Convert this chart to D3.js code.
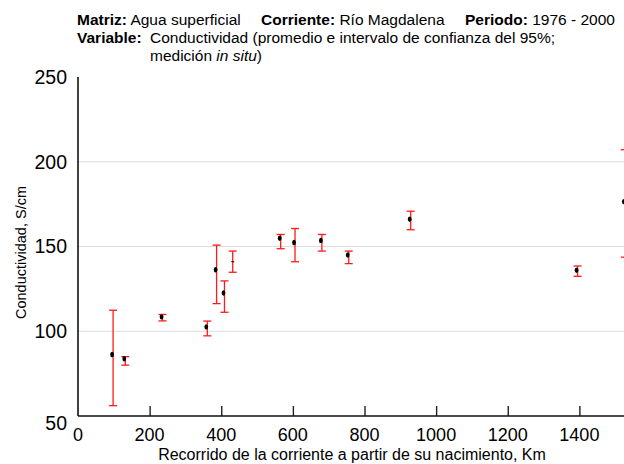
<!DOCTYPE html>
<html>
<head>
<meta charset="utf-8">
<script src="https://cdn.jsdelivr.net/npm/d3@7"></script>
<style>
  html, body { margin: 0; padding: 0; background: #fff; }
  svg { display: block; font-family: "Liberation Sans", Arial, Helvetica, sans-serif; }
</style>
</head>
<body>
<svg id="chart" width="624" height="464"></svg>
<script>
// Distance from the river source (km) for each sampling station
const km = [98, 132, 236, 361, 387, 409, 432, 566, 606, 681, 756, 929, 1395, 1527];
// Mean conductivity and 95% confidence interval bounds
const meanValues = [86.3, 83.8, 108.5, 102.6, 136.3, 122.6, 141, 154.9, 152.4, 153.6, 145, 166.1, 136, 176.5];
const lowerCI   = [56.1, 80, 106.1, 97.3, 116.3, 111.2, 134.8, 148.7, 141, 147.3, 139.9, 159.9, 132.4, 143.7];
const upperCI   = [112.4, 85, 109.9, 106, 150.8, 129.7, 147.3, 157.1, 160.6, 157.1, 147.3, 170.8, 138.5, 207.1];
// Marker shape for each mean
const markerShape = ["dot","dot","dot","dot","dot","dot","dash","dot","dot","dot","dot","dot","dot","dot"];

const xTicks = [0, 200, 400, 600, 800, 1000, 1200, 1400];
const yTicks = [50, 100, 150, 200, 250];
const yGrid = [100, 150, 200];

const svg = d3.select("#chart");
const W = 624, H = 464;

const x = d3.scaleLinear().domain([0, 1600]).range([78, 651]);
const y = d3.scaleLinear().domain([50, 250]).range([416, 77]);

// Header
const header = svg.append("g").attr("font-size", 15.5).attr("fill", "#000");
const l1 = header.append("text").attr("y", 25);
l1.append("tspan").attr("x", 77).attr("font-weight", "bold").text("Matriz:");
l1.append("tspan").text(" Agua superficial");
l1.append("tspan").attr("x", 261).attr("font-weight", "bold").text("Corriente:");
l1.append("tspan").text(" Río Magdalena");
l1.append("tspan").attr("x", 465).attr("font-weight", "bold").text("Periodo:");
l1.append("tspan").text(" 1976 - 2000");
const l2 = header.append("text").attr("y", 43);
l2.append("tspan").attr("x", 77).attr("font-weight", "bold").text("Variable:");
l2.append("tspan").attr("x", 150).text("Conductividad (promedio e intervalo de confianza del 95%;");
const l3 = header.append("text").attr("y", 61);
l3.append("tspan").attr("x", 150).text("medición ");
l3.append("tspan").attr("font-style", "italic").text("in situ");
l3.append("tspan").text(")");

// Horizontal gridlines
svg.append("g").selectAll("line").data(yGrid).join("line")
  .attr("x1", x(0)).attr("x2", W)
  .attr("y1", d => y(d)).attr("y2", d => y(d))
  .attr("stroke", "#dcdcdc").attr("stroke-width", 1);

// X axis: ticks point into the plot
const xAxis = svg.append("g").attr("transform", `translate(0,${y(50)})`)
  .call(d3.axisTop(x).tickValues(xTicks.filter(d => d > 0).concat([1600])).tickSize(10).tickFormat(""));
xAxis.select(".domain").remove();
xAxis.selectAll(".tick line").attr("stroke", "#222").attr("stroke-width", 1.4);
svg.append("line")
  .attr("x1", x(0)).attr("x2", W).attr("y1", y(50)).attr("y2", y(50))
  .attr("stroke", "#111").attr("stroke-width", 1.6);

svg.append("g").selectAll("text").data(xTicks).join("text")
  .attr("x", d => x(d)).attr("y", 440.5)
  .attr("text-anchor", "middle").attr("font-size", 18).text(d => d);

// Y axis line and labels
svg.append("line")
  .attr("x1", x(0)).attr("x2", x(0)).attr("y1", y(250)).attr("y2", y(50))
  .attr("stroke", "#111").attr("stroke-width", 1.6);
svg.append("g").selectAll("text").data(yTicks).join("text")
  .attr("x", 67).attr("y", d => y(d) + (d === 50 ? 7 : 0))
  .attr("dy", "0.35em").attr("text-anchor", "end").attr("font-size", 19.5).text(d => d);

// Axis titles
svg.append("text").attr("x", 352).attr("y", 460).attr("text-anchor", "middle")
  .attr("font-size", 16).text("Recorrido de la corriente a partir de su nacimiento, Km");
svg.append("text").attr("transform", `translate(26,${(y(250) + y(50)) / 2 + 6}) rotate(-90)`)
  .attr("text-anchor", "middle").attr("font-size", 14.5).text("Conductividad, S/cm");

// Confidence intervals
const idx = d3.range(km.length);
const bars = svg.append("g").attr("stroke", "#ff1a1a").attr("stroke-width", 1.3).attr("fill", "none");
bars.selectAll("line.v").data(idx).join("line").attr("class", "v")
  .attr("x1", i => x(km[i])).attr("x2", i => x(km[i]))
  .attr("y1", i => y(lowerCI[i])).attr("y2", i => y(upperCI[i]));
bars.selectAll("line.top").data(idx).join("line").attr("class", "top")
  .attr("x1", i => x(km[i]) - 4).attr("x2", i => x(km[i]) + 4)
  .attr("y1", i => y(upperCI[i])).attr("y2", i => y(upperCI[i]));
bars.selectAll("line.bot").data(idx).join("line").attr("class", "bot")
  .attr("x1", i => x(km[i]) - 4).attr("x2", i => x(km[i]) + 4)
  .attr("y1", i => y(lowerCI[i])).attr("y2", i => y(lowerCI[i]));

// Means
const marks = svg.append("g");
marks.selectAll("ellipse").data(idx.filter(i => markerShape[i] === "dot")).join("ellipse")
  .attr("cx", i => x(km[i]) - 1).attr("cy", i => y(meanValues[i]))
  .attr("rx", 1.9).attr("ry", 2.7).attr("fill", "#000");
marks.selectAll("line").data(idx.filter(i => markerShape[i] === "dash")).join("line")
  .attr("x1", i => x(km[i]) - 1.5).attr("x2", i => x(km[i]) + 1.5)
  .attr("y1", i => y(meanValues[i])).attr("y2", i => y(meanValues[i]))
  .attr("stroke", "#000").attr("stroke-width", 1);
</script>
</body>
</html>
